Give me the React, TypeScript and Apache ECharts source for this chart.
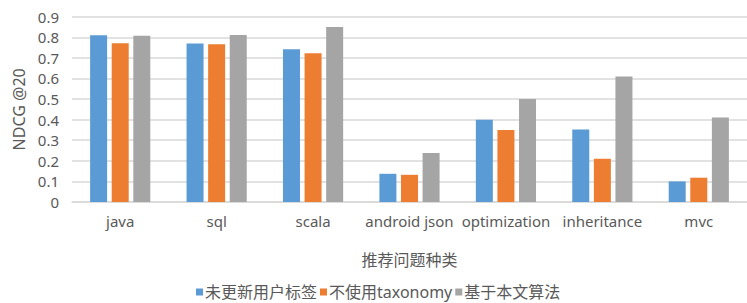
import React, { useEffect, useRef } from "react";
import * as echarts from "echarts";

const categories = ["java", "sql", "scala", "android json", "optimization", "inheritance", "mvc"];
const seriesNames = ["未更新用户标签", "不使用taxonomy", "基于本文算法"];
const noUpdate = [0.81, 0.77, 0.742, 0.137, 0.4, 0.352, 0.1];
const noTaxonomy = [0.771, 0.766, 0.723, 0.132, 0.35, 0.21, 0.118];
const ours = [0.808, 0.811, 0.85, 0.238, 0.5, 0.61, 0.41];
const colors = ["#5b9bd5", "#ed7d31", "#a5a5a5"];
const yAxisName = "NDCG @20";
const xAxisName = "推荐问题种类";

export default function App() {
  const ref = useRef<HTMLDivElement>(null);
  useEffect(() => {
    document.body.style.margin = "0";
    const chart = echarts.init(ref.current!, null, { renderer: "svg" });
    const font = "'Noto Sans', 'Noto Sans CJK SC', sans-serif";
    const values = [noUpdate, noTaxonomy, ours];
    chart.setOption({
      animation: false,
      color: colors,
      textStyle: { fontFamily: font },
      grid: { left: 72, right: -11, top: 16.7, bottom: 101, containLabel: false },
      legend: {
        left: 196,
        top: 284,
        padding: 0,
        itemWidth: 7,
        itemHeight: 7,
        itemGap: 3,
        icon: "rect",
        textStyle: { fontSize: 16, color: "#595959", fontFamily: font, padding: [0, 0, 0, -3] },
        data: seriesNames,
      },
      xAxis: {
        type: "category",
        data: categories,
        name: xAxisName,
        nameLocation: "middle",
        nameGap: 50,
        nameTextStyle: { fontSize: 16, color: "#595959" },
        axisLine: { lineStyle: { color: "#d9d9d9", width: 1.5 } },
        axisTick: { show: false },
        axisLabel: { interval: 0, fontSize: 15, color: "#595959", margin: 11 },
      },
      yAxis: {
        type: "value",
        min: 0,
        max: 0.9,
        interval: 0.1,
        name: yAxisName,
        nameLocation: "middle",
        nameGap: 42,
        nameTextStyle: { fontSize: 16, color: "#595959" },
        axisLine: { show: false },
        axisTick: { show: false },
        axisLabel: {
          fontSize: 15,
          color: "#595959",
          margin: 13,
          formatter: (v: number) => (v === 0 ? "0" : v.toFixed(1)),
        },
        splitLine: { lineStyle: { color: "#d9d9d9", width: 1.5 } },
      },
      series: seriesNames.map((n, i) => ({
        name: n,
        type: "bar",
        data: values[i],
        barWidth: 17,
        barGap: "27%",
        itemStyle: { color: colors[i] },
      })),
    });
    return () => chart.dispose();
  }, []);
  return <div ref={ref} style={{ width: 747, height: 303 }} />;
}
